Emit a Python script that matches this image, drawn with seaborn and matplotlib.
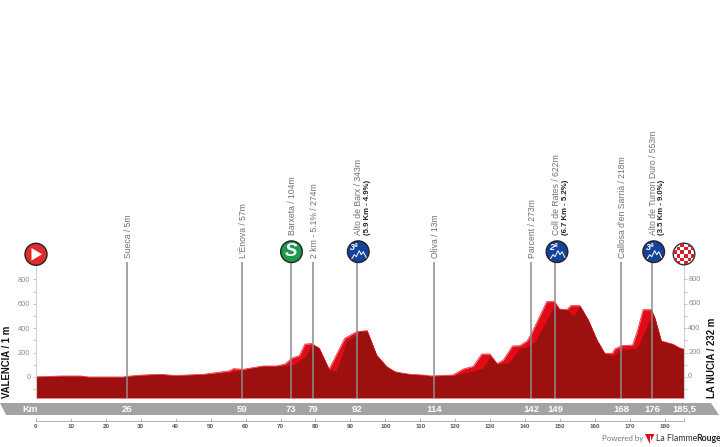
import numpy as np
import pandas as pd
import seaborn as sns
import matplotlib
matplotlib.use('Agg')
import matplotlib.pyplot as plt
from matplotlib.patches import Circle, Polygon, Rectangle

# Profile, upper (bright) outline
top_km = [0, 7, 13, 15, 25, 26, 30, 35.5, 40, 48, 55.5, 56.5, 59.4, 65, 68.9, 71.3, 73.2, 75.4, 77, 78.9,
          81.1, 83.9, 88.4, 91.8, 94.8, 97.5, 100.4, 102.7, 104.2, 107, 110.9, 113.2, 119.4, 122.3, 125.2,
          127.6, 129.9, 132, 133.8, 136.4, 138.5, 140.6, 141.9, 146.2, 148.5, 149.8, 152, 153.1, 155.7,
          158.1, 160.6, 162.8, 165, 165.7, 167.6, 170.8, 172.1, 173.8, 176.2, 177.2, 179, 182.4, 184.1, 185.5]
top_m = [1, 8, 8, 0, 0, 5, 15, 22, 12, 22, 51, 68, 63, 90, 90, 106, 153, 175, 270, 273,
         235, 63, 317, 371, 379, 180, 85, 44, 35, 22, 16, 8, 16, 65, 87,
         188, 188, 109, 139, 254, 256, 295, 358, 617, 617, 557, 551, 584, 584,
         467, 303, 194, 194, 229, 256, 262, 371, 551, 551, 480, 295, 268, 240, 227]

# Profile, shaded (dark) part in front
dark_km = [0, 7, 13, 15, 25, 26, 30, 35.5, 40, 48, 55.5, 57, 61, 65, 68.9, 70.7, 73.6, 77, 78.9, 79.6,
           81.1, 83.9, 85.9, 88.9, 91.8, 92.5, 94.8, 97.5, 100.4, 102.7, 104.2, 107, 110.9, 113.2, 119.9,
           125.2, 128, 129.9, 132, 135.2, 138.5, 140.6, 142.8, 148.5, 149.8, 152, 153.9, 155.7,
           158.1, 160.6, 162.8, 165, 167.3, 172.1, 175.7, 176.2, 177.2, 179, 182.4, 184.1, 185.5]
dark_m = [1, 8, 8, 0, 0, 5, 15, 22, 12, 22, 40, 45, 70, 90, 90, 95, 98, 166, 254, 262,
          235, 63, 44, 289, 352, 377, 379, 180, 85, 44, 35, 22, 16, 8, 16,
          49, 76, 166, 109, 112, 235, 248, 289, 590, 557, 551, 502, 584,
          467, 303, 194, 172, 221, 240, 467, 551, 480, 295, 268, 240, 227]

# Points of the route
place_km = [26, 59, 73, 79.3, 92, 114, 141.7, 148.6, 167.5, 176.3]
place_names = ["Sueca / 5m", "L'Ènova / 57m", "Barxeta / 104m", "2 km - 5.1% / 274m", "Alto de Barx / 343m",
               "Oliva / 13m", "Parcent / 273m", "Coll de Rates / 622m", "Callosa d'en Sarrià / 218m",
               "Alto de Turron Duro / 553m"]
place_bold = ["", "", "", "", "(5.9 Km - 4.9%)", "", "", "(6.7 Km - 5.2%)", "", "(3.5 Km - 9.0%)"]
place_raised = [False, False, True, False, True, False, False, True, False, True]
band_labels = ["26", "59", "73", "79", "92", "114", "142", "149", "168", "176", "185,5"]
km_ticks = list(range(0, 190, 10))
height_ticks = [0, 200, 400, 600, 800]
height_minor = [-100, 100, 300, 500, 700]

WIDTH, HEIGHT = 720, 447
FLOOR = -172
CEILING = 940
NARROW = ['Liberation Sans Narrow', 'Liberation Sans', 'DejaVu Sans']

sns.set_theme(style='white')
plt.rcParams['font.family'] = NARROW

fig = plt.figure(figsize=(WIDTH / 100, HEIGHT / 100), dpi=100)
ax = fig.add_axes([36 / WIDTH, 1 - 398 / HEIGHT, 648 / WIDTH, (398 - 262.2) / HEIGHT])
ax.patch.set_alpha(0)

# Elevation profile
ax.fill_between(top_km, top_m, FLOOR, color='#e30a17', lw=0)
ax.fill_between(dark_km, dark_m, FLOOR + 4, color='#9c1010', lw=0)
profile = pd.DataFrame({'km': top_km, 'm': top_m})
sns.lineplot(data=profile, x='km', y='m', color='#e30a17', lw=0.5, ax=ax)
ax.vlines(place_km, FLOOR, CEILING, color='#8c8c8c', lw=1.1, zorder=5)

ax.set_xlim(0, 185.5)
ax.set_ylim(FLOOR, CEILING)
ax.set_xlabel('')
ax.set_ylabel('')

# Distance axis below the km band
ax.spines['top'].set_visible(False)
ax.spines['bottom'].set_position(('outward', 16.3))
ax.spines['bottom'].set_color('#b4b4b4')
ax.spines['left'].set_color('#d0d0d0')
ax.spines['right'].set_color('#d0d0d0')
ax.spines['right'].set_visible(True)
for side in ['left', 'right', 'bottom']:
    ax.spines[side].set_linewidth(0.8)
ax.set_xticks(km_ticks + [185.5])
ax.set_xticklabels([str(k) for k in km_ticks] + [''], fontsize=4.5, fontweight='bold', color='#555555')
ax.tick_params(axis='x', bottom=True, direction='in', length=2.5, width=0.7, color='#b4b4b4', pad=2.5)

ax.set_yticks(height_ticks)
ax.set_yticks(height_minor, minor=True)
ax.set_yticklabels([str(h) for h in height_ticks], fontsize=5.3, color='#8a8a8a')
ax.tick_params(axis='y', which='major', left=True, right=True, direction='out', length=2.5, width=0.7,
               color='#c4c4c4', pad=1.5)
ax.tick_params(axis='y', which='minor', left=True, right=True, direction='out', length=2.5, width=0.7,
               color='#c4c4c4')
for h in height_ticks:
    ax.annotate(str(h), (1, h), xycoords=ax.get_yaxis_transform(), xytext=(3, 0), textcoords='offset points',
                va='center', ha='left', fontsize=5.3, color='#8a8a8a')

# Everything around the chart is placed in pixels on a full figure overlay
px = fig.add_axes([0, 0, 1, 1])
px.set_xlim(0, WIDTH)
px.set_ylim(HEIGHT, 0)
px.axis('off')


def km_x(km):
    return 36 + km * 648 / 185.5


px.add_patch(Polygon([(0, 403), (711, 403), (719, 415), (6, 415)], closed=True, color='#a1a3a5', lw=0))
px.text(30, 409.3, 'Km', color='white', fontsize=6.8, fontweight='bold', ha='center', va='center')
for km, lab in zip(place_km + [185.5], band_labels):
    px.text(km_x(km), 409.3, lab, color='white', fontsize=6.8, fontweight='bold', ha='center', va='center')

for km, name, bold, raised in zip(place_km, place_names, place_bold, place_raised):
    x = km_x(km)
    px.text(x + 1.2, 235 if raised else 258, name, rotation=90, fontsize=6.2, color='#707070', ha='center', va='bottom')
    if bold:
        px.text(x + 10, 235, bold, rotation=90, fontsize=5.6, color='#222222', fontweight='bold',
                ha='center', va='bottom')

# Start and finish names
px.text(7.5, 398, 'VALENCIA / 1 m', rotation=90, fontsize=6.9, fontweight='bold', color='#111111', ha='center', va='bottom')
px.text(712, 398, 'LA NUCIA / 232 m', rotation=90, fontsize=6.9, fontweight='bold', color='#111111', ha='center', va='bottom')

# Start icon
px.add_patch(Circle((36, 254.3), 11, fc='#e22a2c', ec='#222222', lw=1))
px.add_patch(Polygon([(31.5, 248), (31.5, 260.5), (42, 254.3)], closed=True, color='white', lw=0))

# Sprint icon
px.add_patch(Circle((291.5, 251.7), 10.8, fc='#1c9a50', ec='#222222', lw=1, zorder=6))
px.text(291.5, 252, 'S', color='white', fontsize=13.5, fontweight='bold', style='italic', ha='center', va='center',
        family=['Liberation Sans', 'DejaVu Sans'], zorder=7)

# Climb icons
for cx, cat in [(358.3, '3ª'), (557, '2ª'), (653.7, '3ª')]:
    px.add_patch(Circle((cx, 251.7), 10.8, fc='#17429b', ec='#222222', lw=1, zorder=6))
    px.text(cx - 4, 247.5, cat, color='white', fontsize=6.5, fontweight='bold', style='italic', ha='center',
            va='center', family=['Liberation Sans', 'DejaVu Sans'], zorder=7)
    px.plot(np.array([-6.5, -4, -2, 1, 3, 5, 8]) + cx, np.array([7, 3, 5, -1, 3, 0, 6]) + 251.7,
            color='white', lw=0.7, zorder=7)

# Finish icon
finish = Circle((684, 254), 10.8, fc='white', ec='#333333', lw=1, zorder=6)
px.add_patch(finish)
for i in range(-3, 3):
    for j in range(-3, 3):
        if (i + j) % 2 == 0:
            sq = Rectangle((684 + i * 3.7, 254 + j * 3.7), 3.7, 3.7, color='#d8202c', lw=0, zorder=7)
            px.add_patch(sq)
            sq.set_clip_path(Circle((684, 254), 10.3, transform=px.transData))

# Footer
px.text(602.5, 438.7, 'Powered by', fontsize=5.7, color='#777777', va='center', family=['Lato', 'DejaVu Sans'])
px.add_patch(Polygon([(645, 434), (654.5, 434), (649.7, 443.5)], closed=True, color='#e30a17', lw=0))
px.plot([649.7, 649.7], [436, 441], color='white', lw=0.8)
px.text(655.5, 438.7, 'La Flamme', fontsize=6.3, color='#333333', va='center', family=['Lato', 'DejaVu Sans'])
px.text(696, 438.7, 'Rouge', fontsize=6.3, color='#222222', fontweight='bold', va='center',
        family=['Lato', 'DejaVu Sans'])

fig.savefig('out.png', dpi=100)
